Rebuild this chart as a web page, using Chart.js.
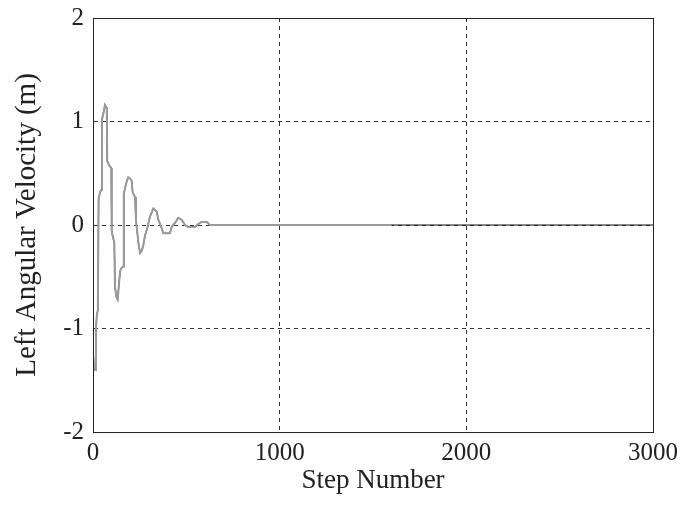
<!DOCTYPE html>
<html>
<head>
<meta charset="utf-8">
<script src="https://cdn.jsdelivr.net/npm/chart.js@4.4.0/dist/chart.umd.min.js"></script>
<style>
  html, body { margin: 0; padding: 0; background: #fff; }
  #wrap { width: 683px; height: 507px; }
</style>
</head>
<body>
<div id="wrap"><canvas id="chart"></canvas></div>
<script>
const xTicks = [0, 1000, 2000, 3000];
const yTicks = [-2, -1, 0, 1, 2];

// step numbers and left angular velocity
const steps = [0, 6, 12, 16, 20, 26, 30, 38, 46, 48, 56, 64, 70, 74, 76, 86, 98, 100, 102, 110,
  114, 118, 126, 132, 145, 150, 162, 164, 166, 172, 182, 189, 198, 207, 212, 225, 230, 243, 252, 261,
  270, 279, 291, 305, 323, 341, 350, 368, 377, 412, 421, 439, 457, 475, 493, 511, 546, 564, 582, 609,
  627, 700, 1000, 1300, 1600];
const velocity = [-1.25, -1.38, -1.4, -1.0, -0.88, -0.82, 0.25, 0.32, 0.34, 1.02, 1.08, 1.16, 1.14, 1.12, 0.62, 0.58, 0.55, -0.05, -0.08, -0.14,
  -0.16, -0.6, -0.7, -0.72, -0.45, -0.42, -0.4, 0.0, 0.3, 0.36, 0.43, 0.46, 0.45, 0.43, 0.32, 0.27, 0.05, -0.17, -0.27, -0.25,
  -0.19, -0.1, -0.03, 0.08, 0.16, 0.13, 0.05, -0.03, -0.08, -0.08, -0.02, 0.02, 0.07, 0.05, 0.0, -0.02, -0.02, 0.01, 0.03, 0.03,
  0.0, 0, 0, 0, 0];

// black trace keeps going after the grey one stops
const tailSteps = [2200, 3000];
const tailValues = [0, 0];

const toPoints = (xs, ys) => xs.map((x, i) => ({ x, y: ys[i] }));

const frame = {
  id: 'frame',
  afterDraw(chart) {
    const { ctx, chartArea: a } = chart;
    ctx.save();
    ctx.strokeStyle = '#222';
    ctx.lineWidth = 1;
    ctx.strokeRect(a.left + 0.5, a.top + 0.5, a.right - a.left, a.bottom - a.top);
    ctx.restore();
  }
};

const serif = '"Liberation Serif", "Times New Roman", serif';
const tickFont = { family: serif, size: 25 };

new Chart(document.getElementById('chart'), {
  type: 'line',
  data: {
    datasets: [
      {
        label: 'grey',
        data: toPoints(steps, velocity),
        borderColor: '#9a9a9a',
        borderWidth: 2,
        pointRadius: 0,
        tension: 0,
        order: 0,
      },
      {
        label: 'black',
        data: toPoints(steps.concat(tailSteps), velocity.concat(tailValues)),
        borderColor: '#111',
        borderWidth: 1.2,
        pointRadius: 0,
        tension: 0,
        order: 1,
      },
    ],
  },
  options: {
    responsive: true,
    maintainAspectRatio: false,
    animation: false,
    layout: { padding: { top: 18, right: 30, bottom: 0, left: 0 } },
    plugins: { legend: { display: false }, tooltip: { enabled: false } },
    scales: {
      x: {
        type: 'linear',
        min: 0,
        max: 3000,
        afterBuildTicks: s => { s.ticks = xTicks.map(v => ({ value: v })); },
        afterFit: s => { s.height = 75; s.paddingLeft = 0; s.paddingRight = 0; },
        grid: {
          drawTicks: false,
          color: c => (c.tick && (c.tick.value === 0 || c.tick.value === 3000) ? 'rgba(0,0,0,0)' : '#333'),
        },
        border: { display: true, color: '#222', dash: [4, 4] },
        ticks: { color: '#222', font: tickFont, padding: 6, maxRotation: 0, callback: v => String(v) },
        title: { display: true, text: 'Step Number', color: '#222', font: { family: serif, size: 27 }, padding: { top: 4, bottom: 10 } },
      },
      y: {
        min: -2,
        max: 2,
        afterBuildTicks: s => { s.ticks = yTicks.map(v => ({ value: v })); },
        afterFit: s => { s.width = 93; s.paddingTop = 0; s.paddingBottom = 0; },
        grid: {
          drawTicks: false,
          color: c => (c.tick && Math.abs(c.tick.value) === 2 ? 'rgba(0,0,0,0)' : '#333'),
        },
        border: { display: true, color: '#222', dash: [4, 4] },
        ticks: { color: '#222', font: tickFont, padding: 9, callback: v => String(v) },
        title: { display: true, text: 'Left Angular Velocity (m)', color: '#222', font: { family: serif, size: 29 }, padding: { top: 10, bottom: 0 } },
      },
    },
  },
  plugins: [frame],
});
</script>
</body>
</html>
